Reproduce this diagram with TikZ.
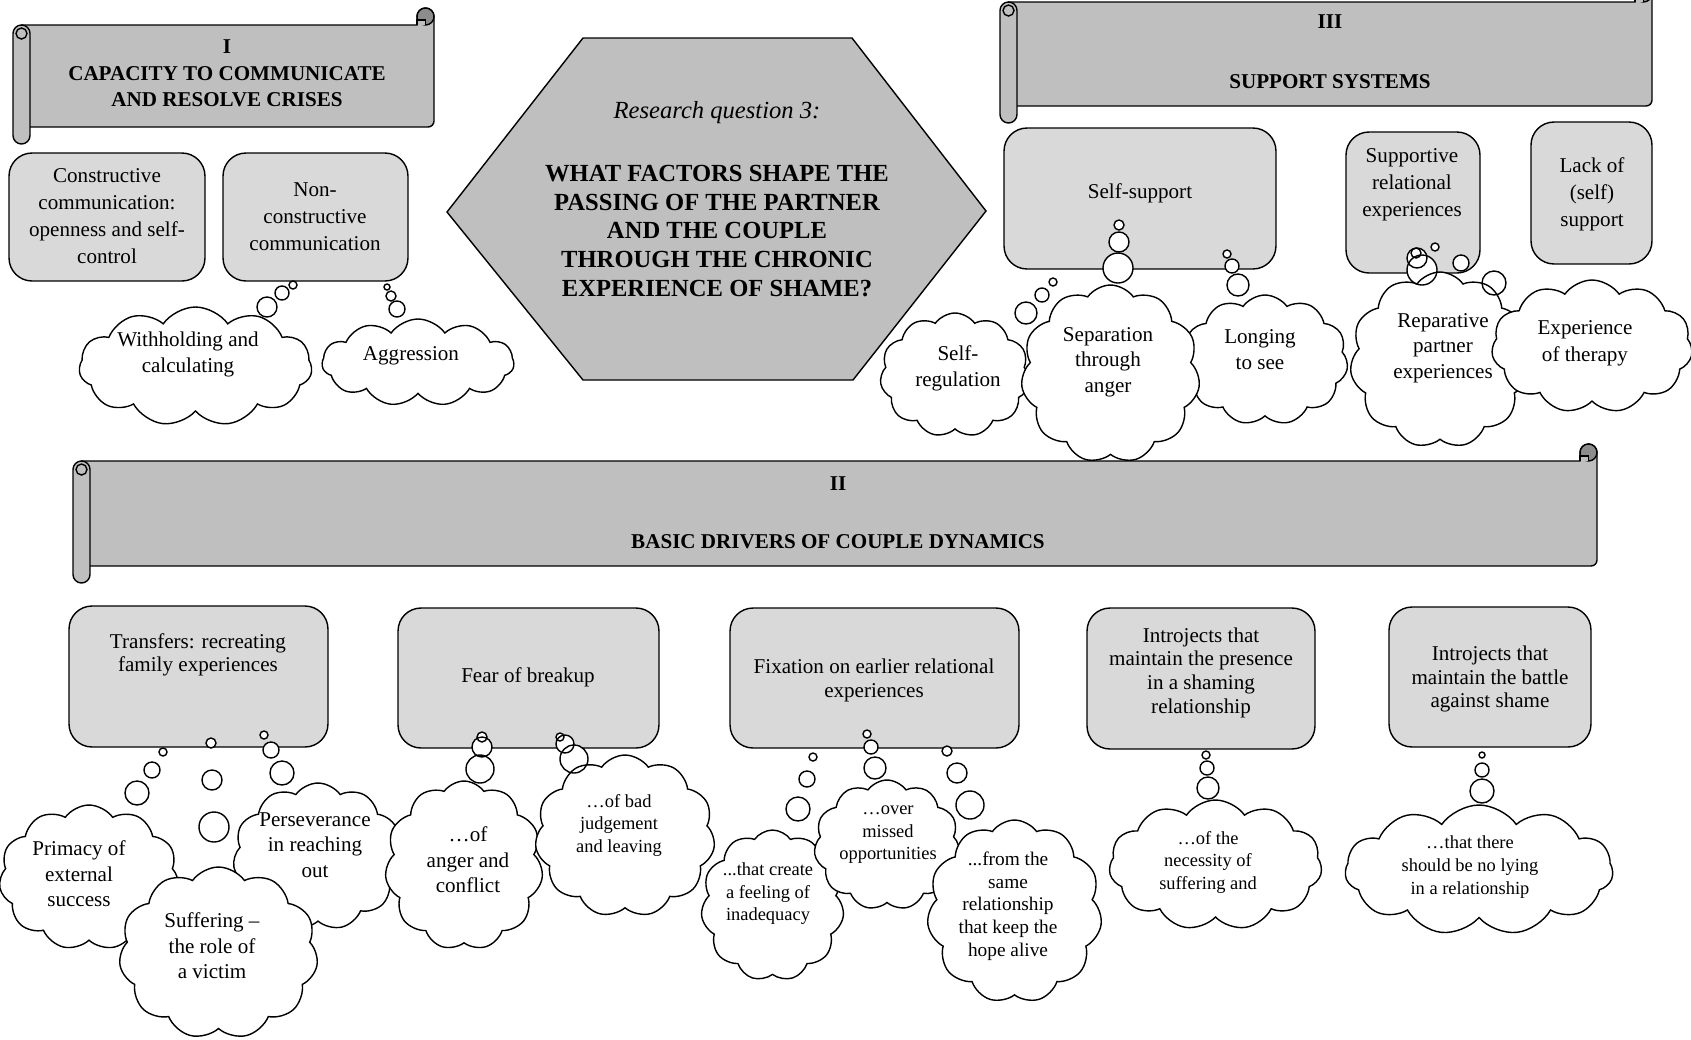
\documentclass[tikz,border=0pt]{standalone}
\usepackage{fontspec}
\setmainfont{Liberation Serif}
\usetikzlibrary{shapes.symbols}

\definecolor{scrollgray}{HTML}{BFBFBF}
\definecolor{boxgray}{HTML}{D9D9D9}
\definecolor{curlgray}{HTML}{8C8C8C}

\tikzset{
  outline/.style={draw=black, line width=0.8pt},
  box/.style={outline, fill=boxgray, rectangle, rounded corners=0.46cm, inner sep=0pt},
  thought/.style={outline, fill=white, cloud, cloud puffs=11, cloud puff arc=110, cloud ignores aspect, inner sep=0pt},
  txt/.style={align=center, font=\fontsize{12}{14.5}\selectfont},
  smalltxt/.style={align=center, font=\fontsize{10.5}{12.8}\selectfont},
  headtxt/.style={align=center, font=\fontsize{12}{15.2}\selectfont\bfseries}
}

% horizontal scroll: left x, top y, right x, bottom y
\newcommand{\drawscroll}[4]{%
  \filldraw [outline, fill=scrollgray] (#1+8.5, #2) -- (#3-17, #2) -- (#3-17, #2-8.5)
    arc [start angle=180, end angle=360, radius=8.5] -- (#3, #4-6)
    arc [start angle=0, end angle=90, radius=6] -- (#1+8.5, #4) -- cycle;
  \filldraw [outline, fill=scrollgray, rounded corners=0.17cm] (#1, #2) rectangle (#1+17, #4+17);
  \filldraw [outline, fill=scrollgray] (#1+8.5, #2+8.5) circle (5.5);
  \filldraw [outline, fill=curlgray] (#3-8.5, #2-8.5) circle (8.5);
  \filldraw [outline, fill=scrollgray] (#3-17, #2) -- (#3-17, #2-5) -- (#3-8.5, #2-5) -- (#3-8.5, #2);
}

\def\bubbles{267/307/10, 282/293/7, 293/285/4, 397/309/8, 391/296/5, 387/287/3,
  1026/313/11, 1042/295/7, 1053/282/4, 1118/268/15, 1119/242/10, 1119/225/5,
  1238/285/11, 1232/266/7, 1227/254/4, 1422/270/15, 1417/258/10, 1416/253/5,
  1494/283/12, 1461/263/8, 1435/247/4, 137/793/12, 152/770/8, 163/752/4,
  214/827/15, 212/780/10, 211/743/5, 282/773/12, 271/750/8, 264/735/4,
  480/769/14, 482/747/10, 482/737/5, 574/759/14, 565/744/9, 560/737/4,
  798/809/12, 807/779/8, 813/757/4, 875/768/11, 871/747/7, 867/734/4,
  970/805/14, 957/773/10, 947/751/5, 1208/788/11, 1207/768/7, 1206/755/4,
  1482/791/12, 1482/770/7, 1482/755/3}

\begin{document}
\begin{tikzpicture}[x=0.02cm, y=-0.02cm]
    \useasboundingbox (0, 0) rectangle (1691, 1039);

    % themes
    \drawscroll{13}{25}{434}{127}
    \drawscroll{73}{461}{1597}{566}
    \drawscroll{1000}{2}{1652}{106}
    \node [headtxt] (themeI) at (227, 73.5) {I\\CAPACITY TO COMMUNICATE\\AND RESOLVE CRISES};
    \node [headtxt] (themeIInum) at (838, 484) {II};
    \node [headtxt] (themeII) at (838, 542) {BASIC DRIVERS OF COUPLE DYNAMICS};
    \node [headtxt] (themeIIInum) at (1330, 22) {III};
    \node [headtxt] (themeIII) at (1330, 82) {SUPPORT SYSTEMS};

    % research question
    \filldraw [outline, fill=scrollgray] (447, 212) -- (583, 38) -- (852, 38) -- (986, 211) -- (853, 380) -- (583, 380) -- cycle;
    \node [font=\fontsize{14}{16.8}\selectfont\itshape] (rq) at (717, 113) {Research question 3:};
    \node [align=center, font=\fontsize{14}{16.4}\selectfont\bfseries] (rqtext) at (717, 231) {WHAT FACTORS SHAPE THE\\PASSING OF THE PARTNER\\AND THE COUPLE\\THROUGH THE CHRONIC\\EXPERIENCE OF SHAME?};

    % subthemes
    \node [box, minimum width=3.92cm, minimum height=2.56cm] (constr) at (107, 217) {};
    \node [txt, font=\fontsize{12}{15.4}\selectfont] (constr-t) at (107, 216.5) {Constructive\\communication:\\openness and self-\\control};
    \node [box, minimum width=3.7cm, minimum height=2.56cm] (noncon) at (315.5, 217) {};
    \node [txt, font=\fontsize{12}{15.4}\selectfont] (noncon-t) at (315, 216.5) {Non-\\constructive\\communication};
    \node [box, minimum width=5.44cm, minimum height=2.82cm] (selfsup) at (1140, 198.5) {};
    \node [txt] (selfsup-t) at (1140, 193) {Self-support};
    \node [box, minimum width=2.68cm, minimum height=2.82cm] (supportive) at (1413, 202.5) {};
    \node [txt, font=\fontsize{12}{15.4}\selectfont] (supportive-t) at (1412, 185) {Supportive\\relational\\experiences};
    \node [box, minimum width=2.42cm, minimum height=2.84cm] (lack) at (1591.5, 193) {};
    \node [txt, font=\fontsize{12}{15.4}\selectfont] (lack-t) at (1592, 194) {Lack of\\(self)\\support};
    \node [box, minimum width=5.18cm, minimum height=2.82cm] (transfers) at (198.5, 676.5) {};
    \node [txt, font=\fontsize{12}{13.2}\selectfont] (transfers-t) at (198, 654.5) {Transfers: recreating\\family experiences};
    \node [box, minimum width=5.22cm, minimum height=2.8cm] (fear) at (528.5, 678) {};
    \node [txt] (fear-t) at (528, 677) {Fear of breakup};
    \node [box, minimum width=5.78cm, minimum height=2.8cm] (fixation) at (874.5, 678) {};
    \node [txt, font=\fontsize{12}{13.7}\selectfont] (fixation-t) at (874, 680) {Fixation on earlier relational\\experiences};
    \node [box, minimum width=4.56cm, minimum height=2.82cm] (presence) at (1201, 678.5) {};
    \node [txt, font=\fontsize{12}{13.5}\selectfont] (presence-t) at (1201, 672.5) {Introjects that\\maintain the presence\\in a shaming\\relationship};
    \node [box, minimum width=4.04cm, minimum height=2.8cm] (battle) at (1490, 677) {};
    \node [txt, font=\fontsize{12}{13.5}\selectfont] (battle-t) at (1490, 679) {Introjects that\\maintain the battle\\against shame};

    % bubbles, fill first
    \foreach \bx/\by/\br in \bubbles
        \fill [white] (\bx, \by) circle (\br);

    % codes
    \node [thought, minimum width=4.66cm, minimum height=2.38cm] (withhold) at (195.5, 366.5) {};
    \node [txt] (withhold-t) at (188, 354.5) {Withholding and\\calculating};
    \node [thought, minimum width=3.84cm, minimum height=1.74cm] (aggress) at (418, 362.5) {};
    \node [txt] (aggress-t) at (411, 356) {Aggression};
    \node [thought, minimum width=3.0cm, minimum height=2.48cm] (selfreg) at (955, 375) {};
    \node [txt] (selfreg-t) at (958, 368.5) {Self-\\regulation};
    \node [thought, minimum width=3.32cm, minimum height=2.6cm] (longing) at (1265, 360) {};
    \node [txt] (longing-t) at (1260, 349.5) {Longing\\to see};
    \node [thought, minimum width=3.58cm, minimum height=3.56cm] (separ) at (1110.5, 374) {};
    \node [txt] (separ-t) at (1108, 362) {Separation\\through\\anger};
    \node [thought, minimum width=3.6cm, minimum height=3.52cm] (repar) at (1440, 360) {};
    \node [txt] (repar-t) at (1443, 348) {Reparative\\partner\\experiences};
    \node [thought, minimum width=4.02cm, minimum height=2.66cm] (therapy) at (1592, 346.5) {};
    \node [txt, font=\fontsize{12}{15.4}\selectfont] (therapy-t) at (1585, 343.5) {Experience\\of therapy};

    \node [thought, minimum width=3.6cm, minimum height=2.9cm] (primacy) at (89, 877.5) {};
    \node [txt] (primacy-t) at (79, 874) {Primacy of\\external\\success};
    \node [thought, minimum width=3.4cm, minimum height=2.94cm] (persev) at (318, 856.5) {};
    \node [txt] (persev-t) at (315, 845) {Perseverance\\in reaching\\out};
    \node [thought, minimum width=3.98cm, minimum height=3.44cm] (suffer) at (218.5, 953) {};
    \node [txt] (suffer-t) at (212, 946) {Suffering \textendash\\the role of\\a victim};
    \node [thought, minimum width=3.16cm, minimum height=3.38cm] (anger) at (464, 865.5) {};
    \node [txt] (anger-t) at (468, 860) {…of\\anger and\\conflict};
    \node [thought, minimum width=3.6cm, minimum height=3.24cm] (badjudge) at (625, 836) {};
    \node [smalltxt] (badjudge-t) at (619, 825) {…of bad\\judgement\\and leaving};
    \node [thought, minimum width=2.86cm, minimum height=3.02cm] (inadeq) at (772.5, 905.5) {};
    \node [smalltxt] (inadeq-t) at (768, 894) {...that create\\a feeling of\\inadequacy};
    \node [thought, minimum width=2.92cm, minimum height=2.6cm] (missed) at (887, 845) {};
    \node [smalltxt] (missed-t) at (888, 835) {…over\\missed\\opportunities};
    \node [thought, minimum width=3.5cm, minimum height=3.66cm] (fromsame) at (1014.5, 911.5) {};
    \node [smalltxt, font=\fontsize{11}{12.9}\selectfont] (fromsame-t) at (1008, 906) {...from the\\same\\relationship\\that keep the\\hope alive};
    \node [thought, minimum width=4.26cm, minimum height=2.6cm] (necess) at (1215.5, 865) {};
    \node [smalltxt] (necess-t) at (1208, 862) {…of the\\necessity of\\suffering and};
    \node [thought, minimum width=5.36cm, minimum height=2.6cm] (nolying) at (1479, 870) {};
    \node [smalltxt, font=\fontsize{10.5}{13.1}\selectfont] (nolying-t) at (1470, 867) {…that there\\should be no lying\\in a relationship};

    % bubbles, outline on top
    \foreach \bx/\by/\br in \bubbles
        \draw [outline] (\bx, \by) circle (\br);
\end{tikzpicture}
\end{document}
